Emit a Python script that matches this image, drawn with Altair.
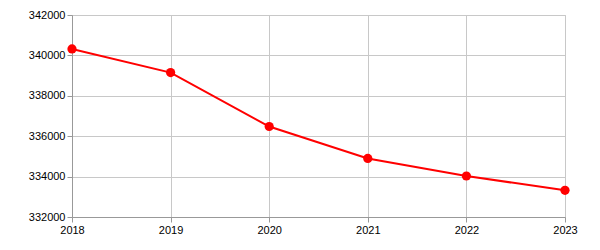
import altair as alt
import pandas as pd

years = [2018, 2019, 2020, 2021, 2022, 2023]
values = [340320, 339150, 336480, 334900, 334030, 333320]

df = pd.DataFrame({"year": years, "value": values})

x = alt.X("year:Q", scale=alt.Scale(domain=[2018, 2023], nice=False, zero=False),
          axis=alt.Axis(values=years, format="d", title=None, labelFont="Arial, Liberation Sans",
                        labelFontSize=11, labelColor="#000", tickColor="#999", domainColor="#999",
                        gridColor="#c8c8c8", tickSize=5, labelPadding=2, labelFlush=False))
y = alt.Y("value:Q", scale=alt.Scale(domain=[332000, 342000], nice=False, zero=False),
          axis=alt.Axis(values=list(range(332000, 342001, 2000)), format="d", title=None,
                        labelFont="Arial, Liberation Sans", labelFontSize=11, labelColor="#000",
                        tickColor="#999", domainColor="#999", gridColor="#c8c8c8",
                        tickSize=5, labelPadding=2))

base = alt.Chart(df).encode(x=x, y=y)
line = base.mark_line(color="#ff0000", strokeWidth=2)
pts = base.mark_point(filled=True, color="#ff0000", size=85, opacity=1)

chart = (line + pts).properties(
    width=493, height=202,
    padding={"left": 72, "top": 15, "right": 35, "bottom": 33},
    autosize=alt.AutoSizeParams(type="none"),
).configure_view(stroke="#c8c8c8")

chart.save("out.html", embed_options={"renderer": "svg", "actions": False})
